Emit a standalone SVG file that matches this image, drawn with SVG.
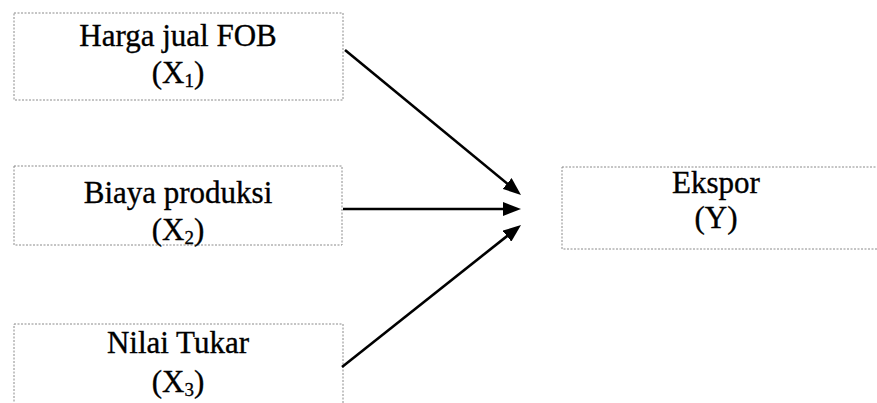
<svg xmlns="http://www.w3.org/2000/svg" width="877" height="403" viewBox="0 0 877 403">
  <style>
    .box { fill: #ffffff; stroke: #8a8a8a; stroke-width: 1; stroke-dasharray: 2 1.5; }
    .lbl { font-family: "Liberation Serif", "Times New Roman", serif; font-size: 31px; fill: #000; stroke: #000; stroke-width: 0.35; text-anchor: middle; }
    .sub { font-size: 19px; }
    .edge { stroke: #000; stroke-width: 2.6; fill: none; marker-end: url(#head); }
  </style>
  <defs>
    <marker id="head" viewBox="0 0 18 14" refX="8" refY="7" markerWidth="18" markerHeight="14" markerUnits="userSpaceOnUse" orient="auto">
      <path d="M0,0 L18,7 L0,14 Z" fill="#000"/>
    </marker>
  </defs>
  <rect width="877" height="403" fill="#ffffff"/>

  <g id="x1">
    <rect class="box" x="14" y="13" width="329" height="87"/>
    <text class="lbl" x="178" y="46">Harga jual FOB</text>
    <text class="lbl" x="178" y="83">(X<tspan class="sub" dy="4">1</tspan><tspan dy="-4">)</tspan></text>
  </g>

  <g id="x2">
    <rect class="box" x="14" y="166" width="328" height="79"/>
    <text class="lbl" x="178" y="203">Biaya produksi</text>
    <text class="lbl" x="178" y="240">(X<tspan class="sub" dy="4">2</tspan><tspan dy="-4">)</tspan></text>
  </g>

  <g id="x3">
    <rect class="box" x="14" y="324" width="329" height="100"/>
    <text class="lbl" x="178" y="353">Nilai Tukar</text>
    <text class="lbl" x="178" y="392">(X<tspan class="sub" dy="4">3</tspan><tspan dy="-4">)</tspan></text>
  </g>

  <g id="y">
    <rect class="box" x="562" y="167" width="330" height="82"/>
    <text class="lbl" x="716" y="193">Ekspor</text>
    <text class="lbl" x="716" y="228">(Y)</text>
  </g>

  <g id="connectors">
    <line class="edge" x1="345" y1="50" x2="513.3" y2="188.6"/>
    <line class="edge" x1="343" y1="209" x2="511" y2="209"/>
    <line class="edge" x1="342" y1="367" x2="513.2" y2="231.2"/>
  </g>
</svg>
